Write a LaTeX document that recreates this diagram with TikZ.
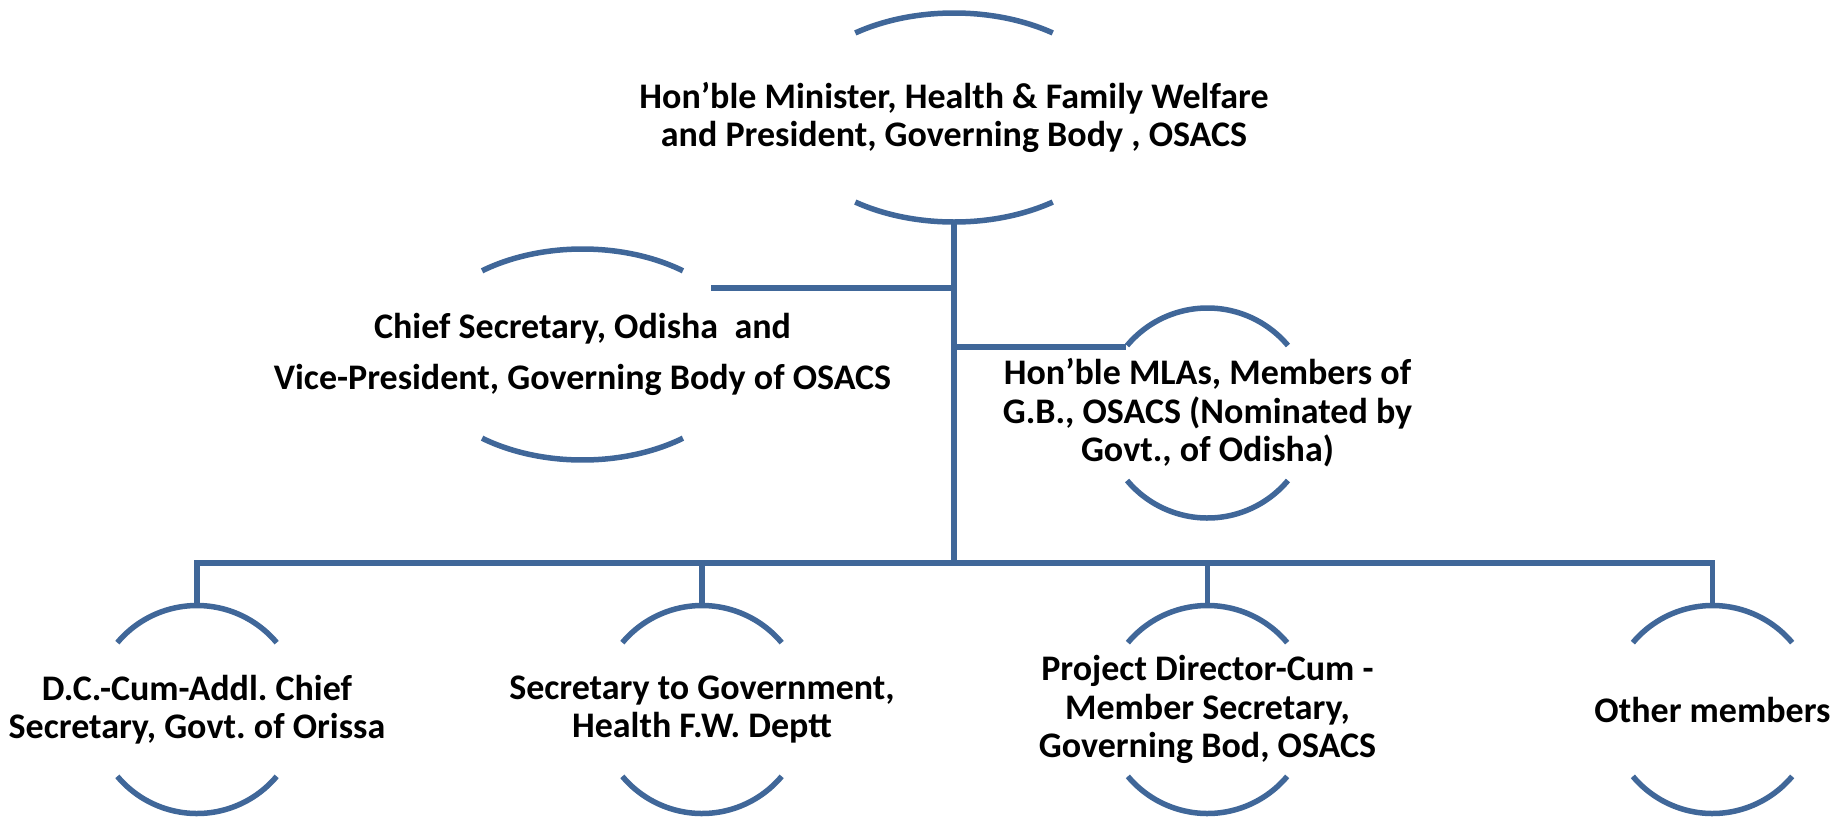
\documentclass[tikz,border=0pt]{standalone}
\usepackage{fontspec}
\setmainfont{Carlito}
\frenchspacing
\definecolor{orgblue}{RGB}{64,103,153}
\tikzset{
  orgtext/.style={align=center, inner sep=0pt, font=\fontsize{36}{38.5}\selectfont\bfseries},
  capline/.style={draw=orgblue, line width=5.5pt},
  linkline/.style={draw=orgblue, line width=5.5pt},
}
% top and bottom caps of an oval round a node: node, x radius, y radius, angle
\newcommand{\ovalcaps}[4]{%
  \draw[capline] (#1.center) ++(#4:#2 and #3) arc[start angle=#4, end angle=180-#4, x radius=#2, y radius=#3];
  \draw[capline] (#1.center) ++(-#4:#2 and #3) arc[start angle=-#4, end angle=-180+#4, x radius=#2, y radius=#3];
}
\begin{document}
\begin{tikzpicture}[x=1pt,y=1pt]
\useasboundingbox (0,0) rectangle (1848,-817);
\node[orgtext] (minister) at (954,-117.5) {Hon’ble Minister, Health \& Family Welfare\\and President, Governing Body , OSACS};
\node[orgtext, font=\fontsize{36}{50.5}\selectfont\bfseries] (chiefsec) at (582.5,-354.5) {Chief Secretary, Odisha\ \ and\\Vice-President, Governing Body of OSACS};
\node[orgtext] (mla) at (1207.5,-413) {Hon’ble MLAs, Members of\\G.B., OSACS (Nominated by\\Govt., of Odisha)};
\node[orgtext] (dccum) at (197,-709.5) {D.C.-Cum-Addl. Chief\\Secretary, Govt. of Orissa};
\node[orgtext] (secgovt) at (702,-709.5) {Secretary to Government,\\Health F.W. Deptt};
\node[orgtext] (projdir) at (1207.5,-709.5) {Project Director-Cum -\\Member Secretary,\\Governing Bod, OSACS};
\node[orgtext] (others) at (1712.5,-709.5) {Other members};

% arcs above and below each text
\ovalcaps{minister}{168}{104.5}{54}
\ovalcaps{chiefsec}{165}{105.5}{52.5}
\ovalcaps{mla}{105}{105}{40}
\foreach \n in {dccum,secgovt,projdir,others} {\ovalcaps{\n}{104}{104}{40}}

% connector ends
\path (minister.center) ++(0,-104.5) coordinate (mbot);
\path (chiefsec.center) ++(39:165 and 105.5) coordinate (cseast);
\path (mla.center) ++(141:105 and 105) coordinate (mlawest);
\foreach \n in {dccum,secgovt,projdir,others} {\path (\n.center) ++(0,104) coordinate (\n-top);}
\coordinate (bus) at (954,-563);

\draw[linkline, line width=6.5pt] (mbot) -- (bus);
\draw[linkline] (cseast -| mbot) -- (cseast);
\draw[linkline] (mlawest -| mbot) -- (mlawest);
\draw[linkline] (dccum-top) |- (bus) -| (others-top);
\draw[linkline] (secgovt-top) -- (secgovt-top |- bus);
\draw[linkline] (projdir-top) -- (projdir-top |- bus);
\end{tikzpicture}
\end{document}
